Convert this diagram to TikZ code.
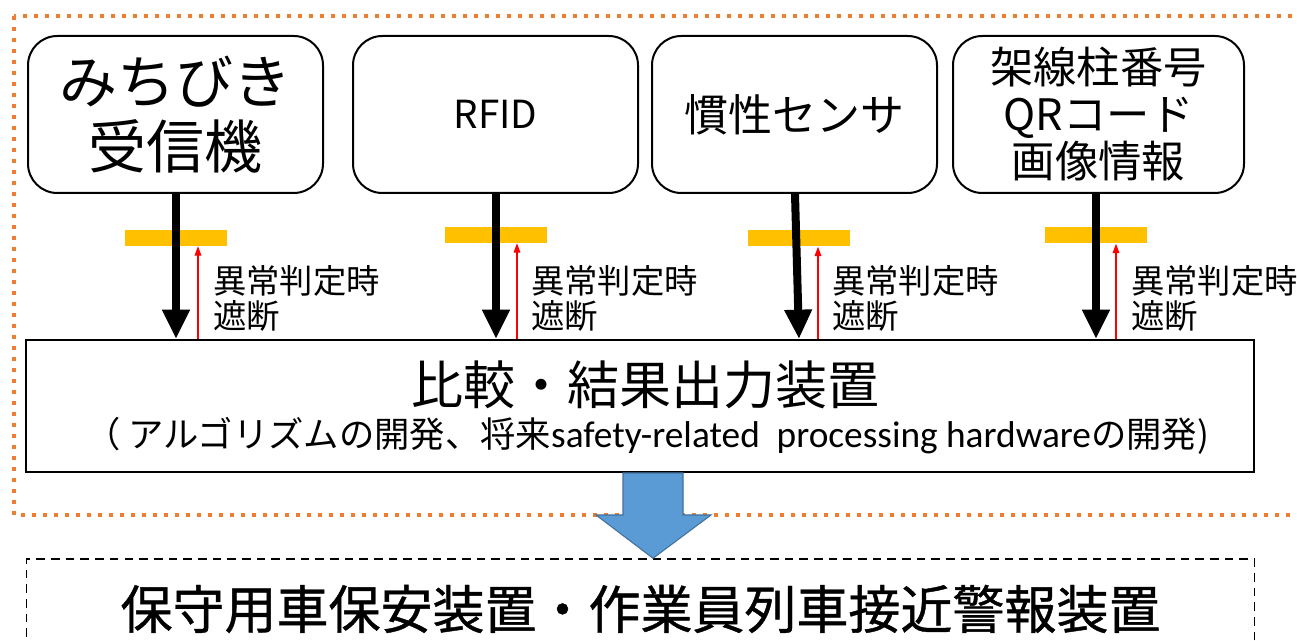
\documentclass[tikz,border=0pt]{standalone}
\usepackage{fontspec}
\setmainfont{Noto Sans CJK JP}
\newfontfamily\lat{Carlito}
\newfontfamily\jpbold[FakeBold=0.8]{Noto Sans CJK JP}
\usetikzlibrary{arrows.meta,calc}
\definecolor{orng}{HTML}{ED7D31}
\definecolor{ylw}{HTML}{FFC000}
\definecolor{blu}{HTML}{5B9BD5}
\definecolor{bluedge}{HTML}{41719C}
\tikzset{
  srcbox/.style={draw=black, line width=1.5pt, rounded corners=22pt, minimum height=117.75pt, inner sep=0pt, align=center},
  bar/.style={fill=ylw, draw=none, minimum width=76.5pt, minimum height=12pt, inner sep=0pt},
  feed/.style={line width=6pt, -{Triangle[width=19.5pt,length=22pt]}},
  cut/.style={red, line width=0.8pt, -{Triangle[width=5pt,length=7pt]}},
  cutlbl/.style={anchor=north west, align=left, font=\fontsize{25}{26.5}\selectfont, inner sep=0pt},
}
\begin{document}
\begin{tikzpicture}[x=0.75pt,y=-0.75pt]
\useasboundingbox (0,0) rectangle (1297,641);
% orange dotted frame
\draw[orng, line width=3pt, dash pattern=on 3pt off 5.25pt] (14,16) rectangle (1320,515);
% source boxes
\node[srcbox, minimum width=221.25pt, font=\fontsize{43.5}{49}\selectfont] (b1) at (175.5,114.5) {みちびき\\受信機};
\node[srcbox, minimum width=213.75pt, font=\fontsize{29}{32}\selectfont] (b2) at (495.5,114.5) {RFID};
\node[srcbox, minimum width=213.75pt, font=\fontsize{33}{38}\selectfont] (b3) at (794.5,114.5) {慣性センサ};
\node[srcbox, minimum width=218.25pt, font=\fontsize{32.5}{35.25}\selectfont] (b4) at (1098.5,114.5) {架線柱番号\\QRコード\\画像情報};
% main box
\node[draw=black, line width=1.5pt, minimum width=921pt, minimum height=99pt, inner sep=0pt] (big) at (640,406) {};
\node[font=\fontsize{39}{44}\selectfont, inner sep=0pt] (ttl) at (645,385) {比較・結果出力装置};
\node[font=\fontsize{26.5}{30}\selectfont, inner sep=0pt] (sub) at (647,436) {（ アルゴリズムの開発、将来{\lat\fontsize{28}{30}\selectfont safety-related\ \ processing hardware}の開発)};
% bottom dashed box
\node[draw=black, line width=1.1pt, dash pattern=on 6.5pt off 4.5pt, minimum width=921pt, minimum height=75pt, inner sep=0pt, font=\jpbold\fontsize{39}{42}\selectfont] (out) at (640.5,609) {保守用車保安装置・作業員列車接近警報装置};
% yellow bars
\node[bar] (y1) at (176,238) {};
\node[bar] (y2) at (496,235) {};
\node[bar] (y3) at (799,238.5) {};
\node[bar] (y4) at (1096,235.5) {};
% arrow x positions
\coordinate (a1) at (176,0);
\coordinate (a2) at (496,0);
\coordinate (a3t) at (795,0);
\coordinate (a3b) at (799,0);
\coordinate (a4) at (1096,0);
\coordinate (r1) at (198,0);
\coordinate (r2) at (517,0);
\coordinate (r3) at (818,0);
\coordinate (r4) at (1116,0);
% black feed arrows
\draw[feed] (b1.south -| a1) -- (big.north -| a1);
\draw[feed] (b2.south -| a2) -- (big.north -| a2);
\draw[feed] (b3.south -| a3t) -- (big.north -| a3b);
\draw[feed] (b4.south -| a4) -- (big.north -| a4);
% red cut arrows
\draw[cut] (big.north -| r1) -- (y1.south -| r1);
\draw[cut] (big.north -| r2) -- (y2.south -| r2);
\draw[cut] (big.north -| r3) -- (y3.south -| r3);
\draw[cut] (big.north -| r4) -- (y4.south -| r4);
% labels
\node[cutlbl] (l1) at (213,265) {異常判定時\\遮断};
\node[cutlbl] (l2) at (531,265) {異常判定時\\遮断};
\node[cutlbl] (l3) at (832,265) {異常判定時\\遮断};
\node[cutlbl] (l4) at (1131,265) {異常判定時\\遮断};
% blue block arrow
\coordinate (bx) at (653,0);
\fill[blu, draw=bluedge, line width=0.8pt]
  ($(big.south -| bx)+(-30,0)$) -- ($(big.south -| bx)+(30,0)$) -- ($(big.south -| bx)+(30,42)$) -- ($(big.south -| bx)+(58,42)$)
  -- (out.north -| bx) -- ($(big.south -| bx)+(-57,42)$) -- ($(big.south -| bx)+(-30,42)$) -- cycle;
\end{tikzpicture}
\end{document}
